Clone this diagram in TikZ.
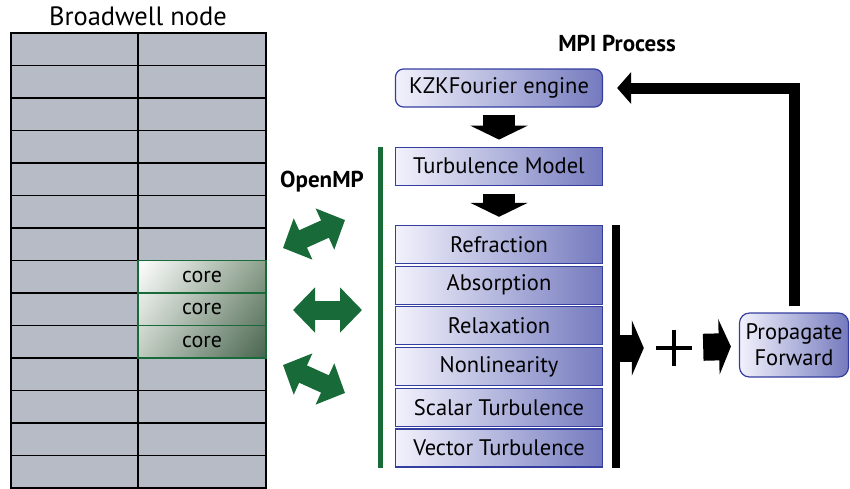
\documentclass[tikz,border=0pt]{standalone}
\usepackage{fontspec}
\setmainfont{PT Sans}
\usepackage{tikz}
\usetikzlibrary{arrows.meta,positioning,shadings}
\usepackage{xcolor}
\definecolor{nodeGrey}{RGB}{183,187,197}
\definecolor{ompGreen}{RGB}{24,107,57}
\definecolor{coreMid}{RGB}{140,160,140}
\definecolor{coreDark}{RGB}{72,100,78}
\definecolor{stageLight}{RGB}{242,242,252}
\definecolor{stageDark}{RGB}{116,122,190}
\definecolor{stageEdge}{RGB}{52,62,160}

\begin{document}
\begin{tikzpicture}[
  x=1pt, y=-1pt,
  font=\fontsize{22.5}{26}\selectfont,
  cell/.style={draw=black, line width=1.4pt, fill=nodeGrey},
  core/.style={draw=ompGreen, line width=1.2pt, minimum width=128pt, minimum height=32.5pt,
               inner sep=0pt, font=\fontsize{22}{24}\selectfont},
  stage/.style={draw=stageEdge, line width=1.2pt, left color=stageLight, right color=stageDark,
                minimum width=207pt, minimum height=38pt, inner sep=0pt},
  engine/.style={stage, rounded corners=8pt},
  head/.style={font=\fontsize{23}{26}\selectfont\bfseries},
  blk/.style={-{Triangle[length=14pt, width=57pt]}, line width=32pt},
  side/.style={-{Triangle[length=12pt, width=55pt]}, line width=27pt},
  back/.style={-{Triangle[length=14pt, width=31pt]}, line width=11pt, line join=miter},
  omp/.style={{Triangle[length=22pt, width=44pt]}-{Triangle[length=22pt, width=44pt]},
              line width=19pt, ompGreen}
]
\useasboundingbox (0,0) rectangle (850,488);

% Broadwell node: 14 rows, 2 cores each
\node (bdw) at (138,16) {\fontsize{26.5}{30}\selectfont Broadwell node};
\foreach \r in {0,...,13}{
  \draw[cell] (11,33+32.5*\r) rectangle (138,65.5+32.5*\r);
  \draw[cell] (138,33+32.5*\r) rectangle (266,65.5+32.5*\r);
}

% OpenMP cores
\shade[upper left=white, upper right=coreMid, lower left=coreMid!55!white, lower right=coreDark]
  (138,260.5) rectangle (266,358);
\node[core] (core1) at (202,276.75) {core};
\node[core] (core2) at (202,309.25) {core};
\node[core] (core3) at (202,341.75) {core};

% MPI process pipeline
\node[head] (mpi) at (617,43) {MPI Process};
\node[engine] (kzk) at (499,88) {KZKFourier engine};
\node[stage, below=39pt of kzk] (turb) {Turbulence Model};
\node[stage, below=39pt of turb] (refr) {Refraction};
\node[stage, below=1.5pt of refr] (abso) {Absorption};
\node[stage, below=1.5pt of abso] (relax) {Relaxation};
\node[stage, below=1.5pt of relax] (nonl) {Nonlinearity};
\node[stage, below=1.5pt of nonl] (scal) {Scalar Turbulence};
\node[stage, below=1.5pt of scal] (vec) {Vector Turbulence};

\node[engine, minimum width=109pt, minimum height=64pt, rounded corners=10pt, align=center,
      font=\fontsize{22.5}{26}\selectfont] (prop) at (794,345) {Propagate\\Forward};
\node[minimum size=36pt, inner sep=0pt] (plus) at (674,348) {};
\draw[line width=4pt] (plus.north) -- (plus.south) (plus.west) -- (plus.east);

% OpenMP threads
\node[head] (ompl) at (322,182) {OpenMP};
\draw[ompGreen, line width=5pt] ([xshift=-14pt]turb.north west) -- ([xshift=-14pt]vec.south west);
\coordinate (t1a) at (283,248); \coordinate (t1b) at (345,220);
\coordinate (t2a) at (293,310); \coordinate (t2b) at (362,310);
\coordinate (t3a) at (283,365); \coordinate (t3b) at (345,393);
\draw[omp] (t1a) -- (t1b);
\draw[omp] (t2a) -- (t2b);
\draw[omp] (t3a) -- (t3b);

% Connections
\draw[blk, shorten <=7pt, shorten >=7pt] (kzk) -- (turb);
\draw[blk, shorten <=8pt, shorten >=8pt] (turb) -- (refr);
\draw[line width=8pt] ([xshift=13pt]refr.north east) -- ([xshift=13pt]vec.south east);
\coordinate (bar) at (616,348);
\draw[side, shorten >=12pt] (bar) -- (plus);
\draw[side, shorten <=11pt, shorten >=8pt] (plus) -- (prop);
\draw[back, shorten <=6pt, shorten >=14pt] (prop.north) |- (kzk.east);

\end{tikzpicture}
\end{document}
